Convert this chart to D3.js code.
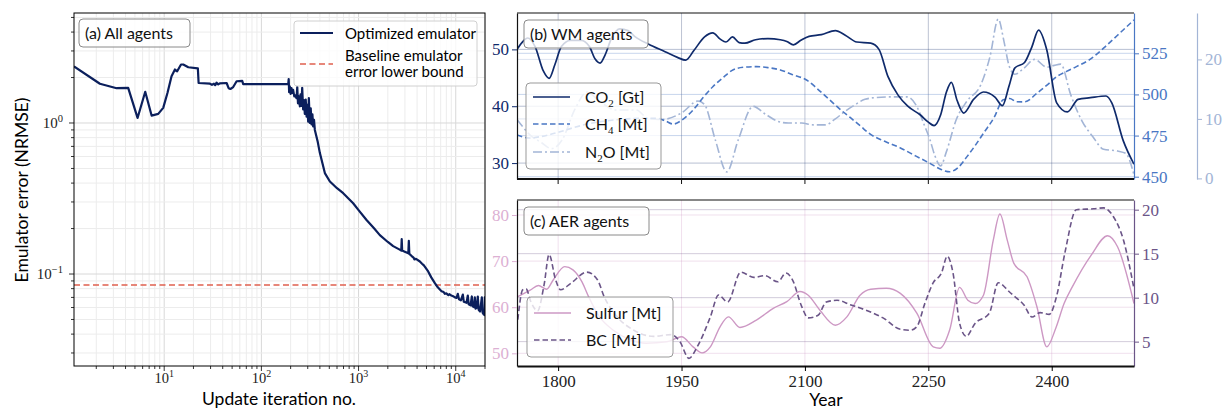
<!DOCTYPE html>
<html><head><meta charset="utf-8">
<script src="https://cdn.jsdelivr.net/npm/d3@7"></script>
<style>body{margin:0;background:#fff}svg{display:block}</style>
</head><body><svg id="c" width="1223" height="409"></svg>
<script>
// ---------- DATA ----------
// Panel (a): optimisation history
const iterA = [1.18,2.18,3.24,4.26,5.32,6.38,7.42,8.68,9.77,10.8,11.9,12.9,13.6,14.9,15.7,17.7,22.2,22.6,29.6,31.0,32.5,33.5,34.5,36.0,37.3,43.9,46.0,48.0,51.3,55.6,63.5,65.0,
  189,191,193,196,200,204,208,212,218,223,230,234,238,243,249,253,258,263,269,274,280,286,292,297,303,308,315,322,328,335,341,348,355,380,400,450,507,600,695,880,1000,1208,1450,1656,2000,2270,
  2650,2750,2780,2810,2950,3250,3290,3330,3500,3700,3750,3900,4276,4500,4700,5203,5600,6099,6500,7140,7500,7700,8000,8400,8600,9000,9400,9800,10200,10500,10800,11300,11830,12100,12900,13310,13600,14200,14640,14900,15400,15710,16000,16400,16870,17200,17800,18550,18900,19400,19800,19900,19950];
const errA = [2.37,1.82,1.70,1.71,1.08,1.61,1.12,1.15,1.26,1.58,2.04,2.26,2.20,2.44,2.44,2.34,2.30,1.84,1.82,1.79,1.82,1.78,1.85,1.80,1.83,1.84,1.70,1.68,1.73,1.89,1.90,1.81,
  1.81,1.95,1.60,1.75,1.56,1.70,1.58,1.66,1.50,1.52,1.46,1.73,1.35,1.50,1.29,1.55,1.30,1.71,1.23,1.42,1.15,1.43,1.10,1.32,1.02,1.46,1.00,1.25,0.98,1.14,0.95,1.05,0.90,0.75,0.632,0.466,0.41,0.37,0.343,0.294,0.265,0.228,0.20,0.181,0.163,0.153,
  0.145,0.143,0.170,0.143,0.141,0.137,0.166,0.136,0.132,0.128,0.125,0.126,0.121,0.117,0.114,0.104,0.095,0.087,0.082,0.077,0.076,0.074,0.0745,0.0725,0.0735,0.072,0.0713,0.070,0.0695,0.074,0.068,0.067,0.073,0.0655,0.0645,0.072,0.063,0.062,0.071,0.0612,0.0605,0.070,0.059,0.0597,0.071,0.058,0.0565,0.070,0.0555,0.054,0.0535,0.070,0.053];
const baselineErr = 0.0845;
const xTicksA = [10,100,1000,10000];
const yTicksA = [0.1,1];

// Panel (b): WM agents
const co2Years = [1750,1756,1763,1772,1782,1789,1796,1804,1815,1828,1838,1845,1851,1857,1865,1875,1885,1893,1910,1930,1945,1955,1965,1978,1988,1997,2004,2012,2020,2027,2040,2055,2070,2078,2086,2095,2105,2120,2137,2149,2163,2180,2190,2201,2213,2225,2240,2250,2257,2265,2272,2278,2285,2293,2305,2317,2331,2340,2348,2355,2367,2376,2384,2394,2406,2419,2432,2447,2466,2473,2487,2500];
const co2Vals  = [50.0,51.2,52.0,50.5,46.2,44.9,47.3,50.5,51.6,51.6,50.5,48.3,47.6,49.0,52.0,53.6,53.3,52.3,50.9,49.6,48.6,48.1,49.8,52.2,52.9,51.8,51.3,52.2,51.2,51.1,51.7,51.9,51.7,51.4,50.8,51.6,52.3,52.6,53.3,52.5,51.3,51.1,50.0,45.2,42.0,40.0,38.5,37.2,36.6,38.5,42.5,44.2,41.0,38.8,41.2,42.5,41.6,40.1,43.5,46.7,47.7,50.5,53.4,49.9,40.6,39.0,41.2,41.5,41.8,40.6,33.9,29.8];
const ch4Years = [1750,1765,1780,1800,1820,1840,1860,1880,1900,1920,1930,1940,1952,1964,1976,1988,2000,2011,2025,2041,2055,2070,2085,2102,2115,2130,2145,2155,2167,2179,2197,2216,2235,2252,2265,2276,2286,2297,2307,2317,2330,2341,2349,2357,2367,2382,2395,2406,2418,2430,2447,2463,2480,2500];
const ch4Vals  = [475.4,473.5,474.5,477,480,482.5,484,485,485.5,485.5,484,482,485,490.5,498,504.7,510,514.5,516.5,516.9,516.3,514.9,512,508.8,503.5,496.7,490,486,481,476,471.5,467.5,462.5,458.1,454.5,453.0,455.5,462.2,469,476.4,486,496.7,497.5,495.6,495.5,500.7,506,510.8,514,516.9,521.5,528.1,536,545.3];
const n2oYears = [1750,1758,1765,1780,1792,1805,1820,1835,1850,1870,1895,1910,1926,1950,1970,1978,1991,2005,2019,2037,2052,2067,2080,2096,2110,2125,2137,2149,2160,2173,2187,2205,2224,2236,2245,2252,2258,2265,2272,2284,2297,2314,2325,2335,2342,2348,2355,2366,2379,2394,2403,2411,2423,2437,2450,2463,2480,2490,2500];
const n2oVals  = [9.9,8.5,7.4,6.0,5.0,6.5,11.5,14.5,13.0,11.5,11.5,10.0,9.9,11.0,13.0,12.4,6.5,1.1,6.5,12.1,10.8,9.6,9.3,9.3,9.0,9.0,10.0,11.3,12.3,13.3,13.6,13.7,13.7,12.1,9.0,6.5,3.8,2.1,4.5,9.9,13.0,15.8,20.5,26.8,23.0,19.0,17.5,18.5,20.0,18.7,19.0,19.2,14.1,9.6,7.0,4.9,4.6,4.2,0.6];

// Panel (c): AER agents
const sulYears = [1751,1766,1776,1786,1794,1808,1818,1829,1837,1850,1867,1887,1907,1932,1950,1964,1975,1985,1997,2007,2021,2041,2062,2078,2094,2104,2118,2137,2151,2167,2180,2199,2216,2236,2256,2264,2276,2288,2298,2307,2317,2329,2337,2346,2354,2370,2382,2394,2405,2415,2425,2448,2468,2480,2500];
const sulVals  = [62.3,63.7,64.7,63.9,65.9,68.8,68.1,65.5,62.3,58.0,55.0,53.0,52.2,52.5,53.6,51.4,50.1,51.4,55.8,57.9,55.6,57.2,59.8,61.2,63.4,62.6,59.4,56.1,57.9,62.6,63.9,64.1,63.0,58.7,51.4,51.1,55.1,64.3,61.5,60.8,62.6,74.6,80.2,74.5,69.5,66.6,60.1,51.4,55.5,60.8,64.4,71.3,75.5,73.1,60.8];
const bcYears  = [1751,1757,1761,1767,1775,1783,1789,1797,1803,1815,1835,1848,1856,1872,1892,1916,1937,1948,1959,1969,1985,1995,2006,2022,2038,2051,2067,2077,2085,2096,2104,2116,2126,2139,2155,2179,2195,2216,2228,2236,2246,2256,2266,2273,2280,2288,2296,2307,2324,2335,2348,2354,2366,2376,2386,2397,2406,2416,2430,2451,2463,2475,2487,2500];
const bcVals   = [7.5,10.9,11.0,9.5,8.5,11.5,14.9,12.0,10.9,11.6,12.9,12.0,10.1,7.8,6.3,5.6,5.8,5.0,3.1,4.4,7.8,10.3,9.5,12.9,12.3,12.5,11.8,12.8,12.0,9.0,7.7,8.0,9.5,9.7,9.2,8.4,7.7,6.4,6.3,6.7,9.4,11.7,12.8,14.7,12.8,7.1,5.6,7.1,8.2,11.7,10.7,10.2,9.2,7.8,8.3,8.1,10.2,15.1,20.0,20.1,20.2,19.2,16.6,11.0];

const yearTicks = [1800,1950,2100,2250,2400];
const co2Ticks = [30,40,50], ch4Ticks = [450,475,500,525], n2oTicks = [0,10,20];
const sulTicks = [50,60,70,80], bcTicks = [5,10,15,20];

// ---------- STYLE ----------
const SANS = 'Lato, "DejaVu Sans", sans-serif';
const SERIF = '"Liberation Serif", "DejaVu Serif", serif';
const C = {main:'#0b1f5c', base:'#e0604f', co2:'#0f2a6b', ch4:'#4a77c4', n2o:'#a3b5d6', sul:'#cd98c4', bc:'#6b5588'};

const svg = d3.select('#c');
const defs = svg.append('defs');
function clip(id, x0,y0,x1,y1){defs.append('clipPath').attr('id',id).append('rect').attr('x',x0).attr('y',y0).attr('width',x1-x0).attr('height',y1-y0);}

// ---------- PANEL A ----------
const A = {x0:74,x1:485,y0:13,y1:366};
const xA = d3.scaleLog().domain([1.18,20000]).range([A.x0,A.x1]);
const yA = d3.scaleLog().domain([0.0246,5.35]).range([A.y1,A.y0]);
clip('ca',A.x0,A.y0,A.x1,A.y1);
const gA = svg.append('g');
const isMaj = v => Math.abs(Math.log10(v)-Math.round(Math.log10(v)))<1e-9;
const xtA = xA.ticks().filter(v=>v>=xA.domain()[0]&&v<=xA.domain()[1]);
const ytA = yA.ticks().filter(v=>v>=yA.domain()[0]&&v<=yA.domain()[1]);
gA.selectAll('.gx').data(xtA).join('line').attr('x1',d=>xA(d)).attr('x2',d=>xA(d)).attr('y1',A.y0).attr('y2',A.y1)
  .attr('stroke',d=>isMaj(d)?'#d8d8d8':'#ececec').attr('stroke-width',1);
gA.selectAll('.gy').data(ytA).join('line').attr('y1',d=>yA(d)).attr('y2',d=>yA(d)).attr('x1',A.x0).attr('x2',A.x1)
  .attr('stroke',d=>isMaj(d)?'#d8d8d8':'#ececec').attr('stroke-width',1);
gA.selectAll('.tx').data(xtA).join('line').attr('x1',d=>xA(d)).attr('x2',d=>xA(d)).attr('y1',A.y1).attr('y2',d=>A.y1+(isMaj(d)?5:3)).attr('stroke','#000').attr('stroke-width',0.8);
gA.selectAll('.ty').data(ytA).join('line').attr('y1',d=>yA(d)).attr('y2',d=>yA(d)).attr('x1',A.x0).attr('x2',d=>A.x0-(isMaj(d)?5:3)).attr('stroke','#000').attr('stroke-width',0.8);
xTicksA.forEach(v=>{
  const t = gA.append('text').attr('x',xA(v)).attr('y',383).attr('text-anchor','middle').attr('font-family',SERIF).attr('font-size',14.5).attr('fill','#222');
  t.append('tspan').text('10'); t.append('tspan').attr('dy',-6).attr('font-size',10).text(String(Math.round(Math.log10(v))));
});
yTicksA.forEach(v=>{
  const e = Math.round(Math.log10(v));
  const t = gA.append('text').attr('x',63).attr('y',yA(v)+5).attr('text-anchor','end').attr('font-family',SERIF).attr('font-size',15).attr('fill','#222');
  t.append('tspan').text('10'); t.append('tspan').attr('dy',-6).attr('font-size',10.5).text(e<0?'\u2212'+(-e):String(e));
});
const pA = gA.append('g').attr('clip-path','url(#ca)');
pA.append('line').attr('x1',A.x0).attr('x2',A.x1).attr('y1',yA(baselineErr)).attr('y2',yA(baselineErr))
  .attr('stroke',C.base).attr('stroke-width',1.5).attr('stroke-dasharray','6,3.5');
pA.append('path').datum(d3.zip(iterA,errA)).attr('d',d3.line().x(d=>xA(d[0])).y(d=>yA(d[1])))
  .attr('fill','none').attr('stroke',C.main).attr('stroke-width',2.2).attr('stroke-linejoin','round');
gA.append('rect').attr('x',A.x0).attr('y',A.y0).attr('width',A.x1-A.x0).attr('height',A.y1-A.y0).attr('fill','none').attr('stroke','#000').attr('stroke-width',1);
gA.append('text').attr('x',279).attr('y',405).attr('text-anchor','middle').attr('font-family',SANS).attr('font-size',17.5).text('Update iteration no.');
gA.append('text').attr('transform','translate(28,190) rotate(-90)').attr('text-anchor','middle').attr('font-family',SANS).attr('font-size',17.5).text('Emulator error (NRMSE)');
function titleBox(x,y,w,h,label){
  svg.append('rect').attr('x',x).attr('y',y).attr('width',w).attr('height',h).attr('rx',4).attr('fill','#fff').attr('fill-opacity',0.8).attr('stroke','#8a8a8a').attr('stroke-width',1);
  svg.append('text').attr('x',x+6).attr('y',y+h/2+6).attr('font-family',SANS).attr('font-size',16).attr('fill','#111').text(label);
}
titleBox(79,19,111,28,'(a) All agents');
svg.append('rect').attr('x',294).attr('y',21).attr('width',183).attr('height',65).attr('rx',3).attr('fill','#fff').attr('fill-opacity',0.8).attr('stroke','#d0d0d0');
svg.append('line').attr('x1',300).attr('x2',333).attr('y1',33).attr('y2',33).attr('stroke',C.main).attr('stroke-width',2.2);
svg.append('text').attr('x',345).attr('y',39).attr('font-family',SANS).attr('font-size',15).text('Optimized emulator');
svg.append('line').attr('x1',300).attr('x2',333).attr('y1',64).attr('y2',64).attr('stroke',C.base).attr('stroke-width',1.5).attr('stroke-dasharray','6,3.5');
svg.append('text').attr('x',345).attr('y',61).attr('font-family',SANS).attr('font-size',15).text('Baseline emulator');
svg.append('text').attr('x',345).attr('y',77).attr('font-family',SANS).attr('font-size',15).text('error lower bound');

// ---------- RIGHT PANELS ----------
const xR = d3.scaleLinear().domain([1750,2500]).range([517,1134]);
const B = {y0:13,y1:179}, Cp = {y0:200,y1:366};
const yCO2 = d3.scaleLinear().domain([27.2,56.4]).range([B.y1,B.y0]);
const yCH4 = d3.scaleLinear().domain([448.6,549.5]).range([B.y1,B.y0]);
const yN2O = d3.scaleLinear().domain([-0.1,27.8]).range([B.y1,B.y0]);
const ySul = d3.scaleLinear().domain([47.25,83.25]).range([Cp.y1,Cp.y0]);
const yBC = d3.scaleLinear().domain([2.23,21.1]).range([Cp.y1,Cp.y0]);
clip('cb',517,B.y0,1134,B.y1); clip('cc',517,Cp.y0,1134,Cp.y1);

function hgrid(g,scale,ticks,col,op){g.selectAll(null).data(ticks).join('line').attr('x1',517).attr('x2',1134).attr('y1',d=>scale(d)).attr('y2',d=>scale(d)).attr('stroke',col).attr('stroke-opacity',op).attr('stroke-width',1);}
function vgrid(g,y0,y1,col,op){g.selectAll(null).data(yearTicks).join('line').attr('x1',d=>xR(d)).attr('x2',d=>xR(d)).attr('y1',y0).attr('y2',y1).attr('stroke',col).attr('stroke-opacity',op).attr('stroke-width',1);}
function axis(g,gen,x,col,fs){
  const a = g.append('g').attr('transform',`translate(${x},0)`).call(gen);
  a.attr('font-family',SERIF).attr('font-size',fs);
  a.select('.domain').attr('stroke',col).attr('stroke-width',1.2);
  a.selectAll('.tick line').attr('stroke',col).attr('stroke-width',1);
  a.selectAll('.tick text').attr('fill',col).attr('font-family',SERIF).attr('font-size',fs);
  return a;
}
function series(g,xs,ys,yScale,col,w,dash){
  g.append('path').datum(d3.zip(xs,ys)).attr('d',d3.line().curve(d3.curveMonotoneX).x(d=>xR(d[0])).y(d=>yScale(d[1])))
   .attr('fill','none').attr('stroke',col).attr('stroke-width',w).attr('stroke-dasharray',dash||null);
}
const gB = svg.append('g');
vgrid(gB,B.y0,B.y1,'#26386e',0.3);
hgrid(gB,yCO2,co2Ticks,C.co2,0.3);
hgrid(gB,yCH4,ch4Ticks,C.ch4,0.3);
hgrid(gB,yN2O,n2oTicks,C.n2o,0.35);
const pB = gB.append('g').attr('clip-path','url(#cb)');
series(pB,n2oYears,n2oVals,yN2O,C.n2o,1.6,'9,3,2,3');
series(pB,ch4Years,ch4Vals,yCH4,C.ch4,1.6,'5.5,3');
series(pB,co2Years,co2Vals,yCO2,C.co2,1.7);
axis(gB,d3.axisLeft(yCO2).tickValues(co2Ticks).tickSize(5).tickPadding(3).tickSizeOuter(0),517,C.co2,17).select('.domain').attr('stroke','#111');
axis(gB,d3.axisRight(yCH4).tickValues(ch4Ticks).tickSize(5).tickPadding(3).tickSizeOuter(0),1134,C.ch4,17);
axis(gB,d3.axisRight(yN2O).tickValues(n2oTicks).tickSize(5).tickPadding(3).tickSizeOuter(0),1197,C.n2o,17);
gB.append('line').attr('x1',517).attr('x2',1134).attr('y1',B.y0).attr('y2',B.y0).attr('stroke','#111').attr('stroke-width',1.2);
gB.append('line').attr('x1',517).attr('x2',1134).attr('y1',B.y1).attr('y2',B.y1).attr('stroke','#111').attr('stroke-width',2);
gB.selectAll(null).data(yearTicks).join('line').attr('x1',d=>xR(d)).attr('x2',d=>xR(d)).attr('y1',B.y1).attr('y2',B.y1+5).attr('stroke','#111');

const gC = svg.append('g');
vgrid(gC,Cp.y0,Cp.y1,C.sul,0.3);
hgrid(gC,ySul,sulTicks,C.sul,0.3);
hgrid(gC,yBC,bcTicks,C.bc,0.3);
const pC = gC.append('g').attr('clip-path','url(#cc)');
series(pC,sulYears,sulVals,ySul,C.sul,1.4);
series(pC,bcYears,bcVals,yBC,C.bc,1.6,'5.5,3');
axis(gC,d3.axisLeft(ySul).tickValues(sulTicks).tickSize(5).tickPadding(3).tickSizeOuter(0),517,'#dcb0d3',17).select('.domain').attr('stroke','#111');
axis(gC,d3.axisRight(yBC).tickValues(bcTicks).tickSize(5).tickPadding(3).tickSizeOuter(0),1134,C.bc,17);
gC.append('line').attr('x1',517).attr('x2',1134).attr('y1',Cp.y0).attr('y2',Cp.y0).attr('stroke','#111').attr('stroke-width',1.2);
const xa = gC.append('g').attr('transform',`translate(0,${Cp.y1})`).call(d3.axisBottom(xR).tickValues(yearTicks).tickFormat(d3.format('d')).tickSize(5).tickPadding(4).tickSizeOuter(0));
xa.attr('font-family',SERIF).attr('font-size',17);
xa.select('.domain').attr('stroke','#111').attr('stroke-width',2);
xa.selectAll('.tick text').attr('font-family',SERIF).attr('font-size',17).attr('fill','#222');
gC.append('text').attr('x',826).attr('y',406).attr('text-anchor','middle').attr('font-family',SANS).attr('font-size',17.5).text('Year');

titleBox(524,20,124,28,'(b) WM agents');
titleBox(524,207,125,28,'(c) AER agents');

function legendBox(x,y,w,h,items){
  svg.append('rect').attr('x',x).attr('y',y).attr('width',w).attr('height',h).attr('rx',4).attr('fill','#fff').attr('fill-opacity',0.8).attr('stroke','#999');
  items.forEach(it=>{
    svg.append('line').attr('x1',x+7).attr('x2',x+44).attr('y1',it.y).attr('y2',it.y).attr('stroke',it.col).attr('stroke-width',it.w).attr('stroke-dasharray',it.dash||null);
    const t = svg.append('text').attr('x',x+59).attr('y',it.y+6).attr('font-family',SANS).attr('font-size',16).attr('fill','#111');
    t.append('tspan').text(it.a);
    if(it.sub){ t.append('tspan').attr('dy',4).attr('font-size',11).attr('font-family',SERIF).text(it.sub); t.append('tspan').attr('dy',-4).text(it.b); }
  });
}
legendBox(526,83,135,86,[
  {y:97,col:C.co2,w:1.7,a:'CO',sub:'2',b:' [Gt]'},
  {y:124,col:C.ch4,w:1.6,dash:'5.5,3',a:'CH',sub:'4',b:' [Mt]'},
  {y:152,col:C.n2o,w:1.6,dash:'9,3,2,3',a:'N',sub:'2',b:'O [Mt]'}
]);
legendBox(527,297,146,60,[
  {y:313,col:C.sul,w:1.4,a:'Sulfur [Mt]'},
  {y:340,col:C.bc,w:1.6,dash:'5.5,3',a:'BC [Mt]'}
]);
</script></body></html>
